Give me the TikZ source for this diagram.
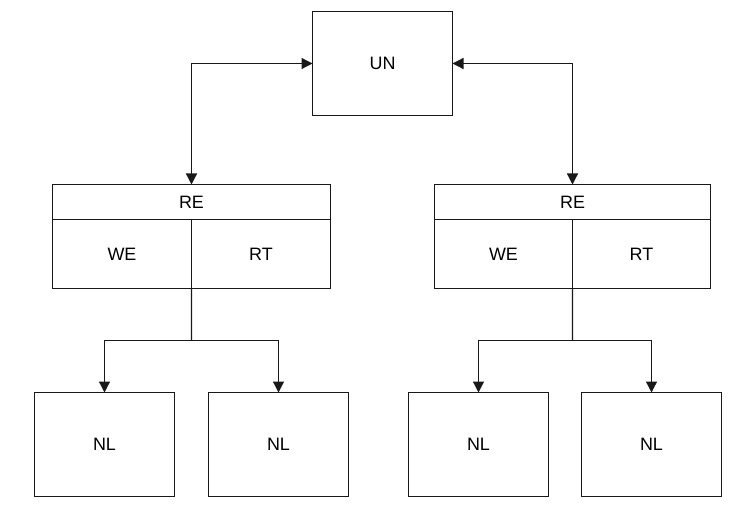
\documentclass[tikz,border=0pt]{standalone}
\usepackage{fontspec}
\setmainfont{Liberation Sans}
\usetikzlibrary{arrows.meta}
\begin{document}
\begin{tikzpicture}[x=1bp,y=-1bp,
  box/.style={draw=black!90,line width=1.3bp,fill=white,inner sep=0pt,outer sep=0pt,font=\fontsize{18}{21}\selectfont},
  link/.style={draw=black!90,line width=1.3bp},
  tip/.style={-{Triangle[width=11bp,length=11bp]}},
  dtip/.style={{Triangle[width=11bp,length=11bp]}-{Triangle[width=11bp,length=11bp]}}]
\useasboundingbox (0,0) rectangle (745,518);
% top
\node[box,minimum width=140bp,minimum height=104bp] (un) at (382.5,63.5) {UN};
% left RE
\node[box,minimum width=278bp,minimum height=35bp] (reL) at (191.5,202) {RE};
\node[box,minimum width=139bp,minimum height=69bp] (weL) at (122,254) {WE};
\node[box,minimum width=139bp,minimum height=69bp] (rtL) at (261,254) {RT};
% right RE
\node[box,minimum width=276bp,minimum height=35bp] (reR) at (572.5,202) {RE};
\node[box,minimum width=138bp,minimum height=69bp] (weR) at (503.5,254) {WE};
\node[box,minimum width=138bp,minimum height=69bp] (rtR) at (641.5,254) {RT};
% leaves
\node[box,minimum width=140bp,minimum height=104bp] (nl1) at (104.5,444.5) {NL};
\node[box,minimum width=140bp,minimum height=104bp] (nl2) at (278.5,444.5) {NL};
\node[box,minimum width=140bp,minimum height=104bp] (nl3) at (478.5,444.5) {NL};
\node[box,minimum width=140bp,minimum height=104bp] (nl4) at (651.5,444.5) {NL};
% connectors
\draw[link,dtip] (un.west) -| (reL.north);
\draw[link,dtip] (un.east) -| (reR.north);
\coordinate (jL) at (191.5,340.5);
\coordinate (jR) at (572.5,340.5);
\draw[link] (weL.south east) -- (jL);
\draw[link,tip] (jL) -| (nl1.north);
\draw[link,tip] (jL) -| (nl2.north);
\draw[link] (weR.south east) -- (jR);
\draw[link,tip] (jR) -| (nl3.north);
\draw[link,tip] (jR) -| (nl4.north);
\end{tikzpicture}
\end{document}
